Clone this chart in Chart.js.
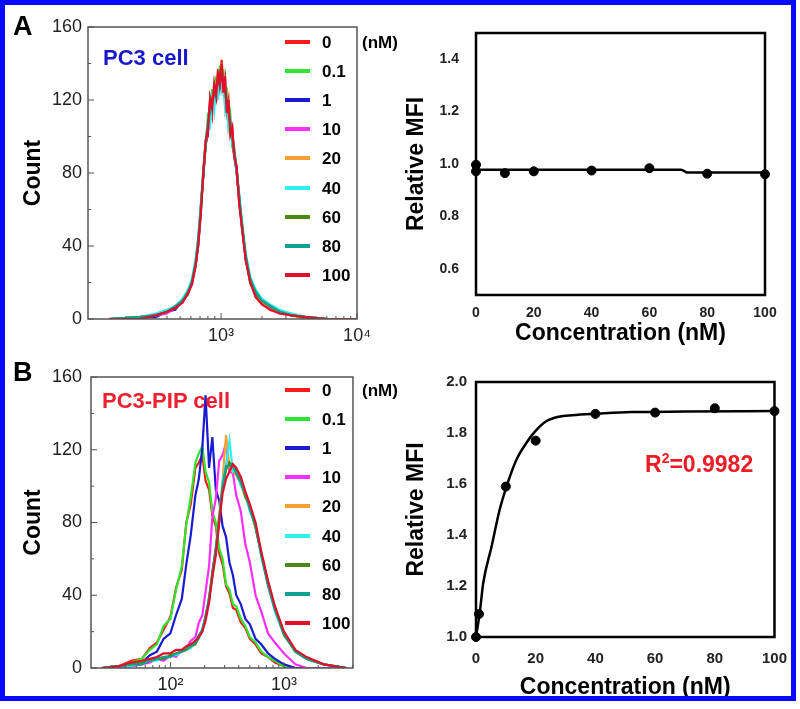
<!DOCTYPE html>
<html>
<head>
<meta charset="utf-8">
<script src="https://cdn.jsdelivr.net/npm/chart.js@4.4.1/dist/chart.umd.min.js"></script>
<style>
  body { margin: 0; width: 800px; height: 709px; background: #fff; position: relative; overflow: hidden;
         font-family: "Liberation Sans", Arial, sans-serif; }
  .frame { position: absolute; left: 0; top: 0; width: 796px; height: 701px; box-sizing: border-box;
           border: 5px solid #0a0aff; z-index: 5; }
  canvas { position: absolute; }
  .txt { position: absolute; font-weight: bold; white-space: nowrap; line-height: 1; z-index: 3; }
  .row { position: absolute; height: 17px; z-index: 3; }
  .row i { position: absolute; left: 0; top: 6px; width: 25px; height: 4px; }
  .row span { position: absolute; left: 37px; top: 0; font-weight: bold; font-size: 17px; line-height: 1; }
</style>
</head>
<body>
<div class="frame"></div>
<canvas id="histA" width="400" height="350" style="left:0;top:0"></canvas>
<canvas id="fitA" width="400" height="350" style="left:400px;top:0"></canvas>
<canvas id="histB" width="400" height="359" style="left:0;top:350px"></canvas>
<canvas id="fitB" width="400" height="359" style="left:400px;top:350px"></canvas>

<div class="txt" style="left:13px;top:13px;font-size:27px">A</div>
<div class="txt" style="left:13px;top:359px;font-size:27px">B</div>
<div class="txt" style="left:103px;top:47px;font-size:22px;color:#1818c8">PC3 cell</div>
<div class="txt" style="left:102px;top:390px;font-size:22px;color:#ee2030">PC3-PIP cell</div>
<div class="txt" style="left:362px;top:34px;font-size:17px">(nM)</div>
<div class="txt" style="left:362px;top:382px;font-size:17px">(nM)</div>
<div class="txt" style="left:645px;top:451px;font-size:23px;color:#ee1c24">R<sup style="font-size:14px;vertical-align:9px">2</sup>=0.9982</div>
<div id="legA"></div>
<div id="legB"></div>

<script>
// concentrations (nM) and colours of the histogram series
const doses = ['0', '0.1', '1', '10', '20', '40', '60', '80', '100'];
const doseColors = ['#ff1a1a', '#2ee62e', '#1a1ad0', '#ff2eff', '#f5a030', '#2ef0f0', '#4a8a10', '#10a090', '#e0102a'];

// A: PC3 histograms (fluorescence -> count)
const fluorA = [150, 250, 330, 400, 460, 520, 570, 610, 650, 680, 710, 740, 770, 800, 830, 860, 890, 920, 950, 980,
  1010, 1040, 1070, 1100, 1135, 1170, 1210, 1250, 1300, 1360, 1430, 1520, 1640, 1800, 2000, 2300, 2700, 3300, 4200, 6000, 10000];
const pc3_0 = [0,1,2,4,7,9,15,19,31,40,62,78,98,100,120,112,128,119,137,126,142,127,132,114,120,102,104,90,83,64,51,32,21,12,9,5,4,2,1,0,0];
const pc3_01 = [0,0,2,5,6,11,13,21,29,43,58,81,94,111,108,126,117,133,122,139,129,137,118,127,106,112,94,94,80,68,48,35,19,14,10,7,4,3,1,0,0];
const pc3_1 = [0,1,1,4,5,10,14,20,30,44,61,79,95,103,112,118,122,120,126,129,131,128,121,118,112,104,98,89,81,66,50,33,20,13,9,6,4,2,1,0,0];
const pc3_10 = [0,0,2,3,6,9,14,19,29,41,59,82,97,107,117,120,125,127,132,135,137,131,127,120,115,107,100,93,83,65,49,33,21,13,8,6,3,2,1,0,0];
const pc3_20 = [0,1,2,4,7,10,15,21,31,42,61,80,96,106,115,122,123,129,130,137,139,133,125,122,113,108,101,91,82,67,50,34,20,12,9,5,4,2,0,0,0];
const pc3_40 = [0,1,3,5,7,11,16,22,33,45,63,81,97,109,106,121,114,129,120,133,126,131,115,120,105,109,96,92,83,68,53,36,23,16,11,8,5,3,1,0,0];
const pc3_60 = [0,1,2,4,6,10,14,20,30,42,60,80,95,106,116,121,124,128,131,136,138,132,126,121,114,108,100,92,82,66,50,34,21,14,10,7,4,2,1,0,0];
const pc3_80 = [0,1,2,4,7,10,15,20,31,43,60,79,96,105,115,119,123,126,129,134,136,130,124,119,113,107,99,91,82,67,51,34,22,15,10,7,4,2,1,0,0];
const pc3_100 = [0,0,2,4,6,9,14,19,29,41,58,79,97,104,121,115,129,122,136,128,140,124,133,113,120,101,105,89,84,63,49,32,20,12,8,5,3,2,1,0,0];
const ticksA = [200, 300, 400, 500, 600, 700, 800, 900, 1000, 2000, 3000, 4000, 5000, 6000, 7000, 8000, 9000, 10000];
const tickLabelsA = { 1000: '10³', 10000: '10⁴' };

// B: PC3-PIP histograms
const fluorB = [25, 35, 45, 56, 66, 76, 87, 100, 112, 126, 138, 151, 166, 178, 191, 204, 219, 234, 251, 269,
  288, 309, 331, 355, 380, 417, 457, 501, 562, 631, 724, 832, 1000, 1259, 1585, 2239, 3548];
const pip_0 = [0,1,4,5,11,14,21,28,44,54,80,90,110,113,117,103,98,84,78,63,57,45,41,33,32,25,22,16,13,8,6,3,1,0,0,0,0];
const pip_01 = [0,1,3,5,10,13,23,27,43,56,79,94,113,118,122,108,102,86,80,66,60,46,43,35,34,27,23,17,14,9,6,4,1,0,0,0,0];
const pip_1 = [0,0,1,3,7,9,16,19,29,38,57,73,95,104,121,150,110,127,98,92,78,72,58,51,40,35,27,24,16,13,8,5,2,0,0,0,0];
const pip_10 = [0,0,1,2,3,5,4,7,6,10,11,15,17,25,29,42,56,83,93,114,117,124,108,107,95,86,68,58,40,31,19,14,8,2,0,0,0];
const pip_20 = [0,1,2,3,4,5,6,7,8,9,10,12,14,17,21,28,38,52,66,84,103,128,110,108,106,101,94,88,77,63,46,32,19,9,5,2,0];
const pip_40 = [0,1,1,3,4,4,6,7,7,9,10,11,14,16,22,27,39,50,64,80,102,112,125,108,110,100,96,86,79,61,47,31,18,10,5,2,0];
const pip_60 = [0,1,2,3,4,5,5,7,8,9,10,12,13,17,20,29,37,53,65,83,99,109,113,111,107,103,94,89,77,63,46,33,18,9,5,2,0];
const pip_80 = [0,1,2,2,4,5,6,6,8,9,11,12,14,18,21,28,39,51,66,81,100,111,111,112,107,102,96,87,78,62,45,32,19,9,5,2,0];
const pip_100 = [0,1,3,4,5,6,8,8,10,10,12,13,15,17,20,26,36,50,62,80,96,104,108,112,110,105,97,90,80,64,48,34,20,10,6,2,0];
const ticksB = [30, 40, 50, 60, 70, 80, 90, 100, 200, 300, 400, 500, 600, 700, 800, 900, 1000, 2000, 3000, 4000];
const tickLabelsB = { 100: '10²', 1000: '10³' };

const countTicks = [0, 20, 40, 60, 80, 100, 120, 140, 160];

// relative MFI vs concentration
const concA = [0, 0, 10, 20, 40, 60, 80, 100];
const mfiA = [0.997, 0.972, 0.965, 0.972, 0.975, 0.984, 0.963, 0.961];
const fitConcA = [0, 71, 73, 100];
const fitMfiA = [0.978, 0.978, 0.968, 0.968];
const mfiTicksA = [0.6, 0.8, 1.0, 1.2, 1.4];

const concB = [0, 1, 10, 20, 40, 60, 80, 100];
const mfiB = [1.0, 1.09, 1.59, 1.77, 1.875, 1.88, 1.897, 1.886];
const fitConcB = [0, 1.3, 2.4, 5.2, 7.9, 10.2, 13.5, 16.8, 20.1, 23.4, 27.8, 32.2, 41, 52, 70, 100];
const fitMfiB = [1.0, 1.1, 1.21, 1.354, 1.498, 1.589, 1.694, 1.76, 1.81, 1.845, 1.864, 1.87, 1.876, 1.882, 1.884, 1.886];
const mfiTicksB = [1.0, 1.2, 1.4, 1.6, 1.8, 2.0];
const concTicks = [0, 20, 40, 60, 80, 100];

const FONT = '"Liberation Sans", Arial, sans-serif';

// box round the plot area, optional inward tick marks
const boxPlugin = {
  id: 'box',
  afterDatasetsDraw(chart, args, opts) {
    const { ctx, chartArea: a } = chart;
    ctx.save();
    ctx.strokeStyle = opts.color;
    ctx.lineWidth = opts.width;
    ctx.strokeRect(a.left, a.top, a.right - a.left, a.bottom - a.top);
    if (opts.inTicks) {
      ctx.lineWidth = 1;
      chart.scales.x.ticks.forEach(t => {
        const p = chart.scales.x.getPixelForValue(t.value);
        const len = t.label ? 6 : 3;
        ctx.beginPath(); ctx.moveTo(p, a.bottom); ctx.lineTo(p, a.bottom - len); ctx.stroke();
      });
      chart.scales.y.ticks.forEach(t => {
        const p = chart.scales.y.getPixelForValue(t.value);
        const len = t.label ? 6 : 3;
        ctx.beginPath(); ctx.moveTo(a.left, p); ctx.lineTo(a.left + len, p); ctx.stroke();
      });
    }
    ctx.restore();
  }
};

function makeLegend(id, top) {
  const box = document.getElementById(id);
  doses.forEach((d, i) => {
    const row = document.createElement('div');
    row.className = 'row';
    row.style.left = '285px';
    row.style.top = (top + i * 29.1 - 8) + 'px';
    row.innerHTML = `<i style="background:${doseColors[i]}"></i><span>${d}</span>`;
    box.appendChild(row);
  });
}

function histChart(id, xs, series, xmin, xmax, ticks, labels, pad) {
  new Chart(document.getElementById(id), {
    type: 'line',
    data: {
      datasets: series.map((ys, i) => ({
        label: doses[i],
        data: xs.map((x, j) => ({ x: x, y: ys[j] })),
        borderColor: doseColors[i],
        borderWidth: 2.2,
        pointRadius: 0,
        tension: 0,
        order: series.length - 1 - i
      }))
    },
    options: {
      responsive: false, animation: false, events: [],
      layout: { padding: pad.padding },
      plugins: {
        legend: { display: false }, tooltip: { enabled: false },
        box: { color: '#555', width: 1.5, inTicks: true }
      },
      scales: {
        x: {
          type: 'logarithmic', min: xmin, max: xmax,
          afterBuildTicks: s => { s.ticks = ticks.map(v => ({ value: v })); },
          afterFit: s => { s.height = pad.xh; },
          grid: { display: false, drawTicks: false },
          border: { display: false },
          ticks: {
            autoSkip: false, maxRotation: 0, padding: 6, color: '#222',
            font: { family: FONT, size: 18 },
            callback: v => labels[v] || ''
          }
        },
        y: {
          min: 0, max: 160,
          afterBuildTicks: s => { s.ticks = countTicks.map(v => ({ value: v })); },
          afterFit: s => { s.width = pad.yw; },
          grid: { display: false, drawTicks: false },
          border: { display: false },
          ticks: {
            autoSkip: false, padding: pad.ypad, color: '#222',
            font: { family: FONT, size: 18 },
            callback: v => (v % 40 === 0 ? String(v) : '')
          },
          title: { display: true, text: 'Count', color: '#000', padding: { top: 20 },
                   font: { family: FONT, size: 23, weight: 'bold' } }
        }
      }
    },
    plugins: [boxPlugin]
  });
}

function fitChart(id, cx, cy, fx, fy, ymin, ymax, yticks, pad) {
  new Chart(document.getElementById(id), {
    type: 'scatter',
    data: {
      datasets: [
        {
          data: cx.map((x, j) => ({ x: x, y: cy[j] })),
          backgroundColor: '#000', borderColor: '#000',
          pointRadius: 4.5, clip: false
        },
        {
          data: fx.map((x, j) => ({ x: x, y: fy[j] })),
          showLine: true, borderColor: '#000', borderWidth: 2.5,
          pointRadius: 0, cubicInterpolationMode: 'monotone'
        }
      ]
    },
    options: {
      responsive: false, animation: false, events: [],
      layout: { padding: pad.padding },
      plugins: {
        legend: { display: false }, tooltip: { enabled: false },
        box: { color: '#000', width: 2.5, inTicks: false }
      },
      scales: {
        x: {
          min: 0, max: 100,
          afterBuildTicks: s => { s.ticks = concTicks.map(v => ({ value: v })); },
          afterFit: s => { s.height = pad.xh; },
          grid: { display: false, drawTicks: false },
          border: { display: false },
          ticks: { autoSkip: false, maxRotation: 0, padding: pad.xpad, color: '#222',
                   font: { family: FONT, size: pad.fs, weight: 'bold' } },
          title: { display: true, text: 'Concentration (nM)', color: '#000', padding: { bottom: pad.tb },
                   font: { family: FONT, size: 23, weight: 'bold' } }
        },
        y: {
          min: ymin, max: ymax,
          afterBuildTicks: s => { s.ticks = yticks.map(v => ({ value: v })); },
          afterFit: s => { s.width = pad.yw; },
          grid: { display: false, drawTicks: false },
          border: { display: false },
          ticks: { autoSkip: false, padding: pad.ypad, color: '#222',
                   font: { family: FONT, size: pad.fs, weight: 'bold' },
                   callback: v => v.toFixed(1) },
          title: { display: true, text: 'Relative MFI', color: '#000', padding: { top: 3 },
                   font: { family: FONT, size: 23, weight: 'bold' } }
        }
      }
    },
    plugins: [boxPlugin]
  });
}

histChart('histA', fluorA, [pc3_0, pc3_01, pc3_1, pc3_10, pc3_20, pc3_40, pc3_60, pc3_80, pc3_100],
  105, 10000, ticksA, tickLabelsA,
  { padding: { left: 0, right: 43, top: 27, bottom: 0 }, xh: 31, yw: 88, ypad: 6 });

histChart('histB', fluorB, [pip_0, pip_01, pip_1, pip_10, pip_20, pip_40, pip_60, pip_80, pip_100],
  20, 4050, ticksB, tickLabelsB,
  { padding: { left: 0, right: 47, top: 27, bottom: 0 }, xh: 41, yw: 91, ypad: 9 });

fitChart('fitA', concA, mfiA, fitConcA, fitMfiA, 0.5, 1.5, mfiTicksA,
  { padding: { left: 0, right: 35, top: 33, bottom: 0 }, xh: 55, yw: 76, ypad: 17, xpad: 10, fs: 14, tb: 3 });

fitChart('fitB', concB, mfiB, fitConcB, fitMfiB, 1.0, 2.0, mfiTicksB,
  { padding: { left: 0, right: 22, top: 32, bottom: 0 }, xh: 72, yw: 76, ypad: 9, xpad: 13, fs: 15, tb: 8 });

makeLegend('legA', 42);
makeLegend('legB', 390);
</script>
</body>
</html>
